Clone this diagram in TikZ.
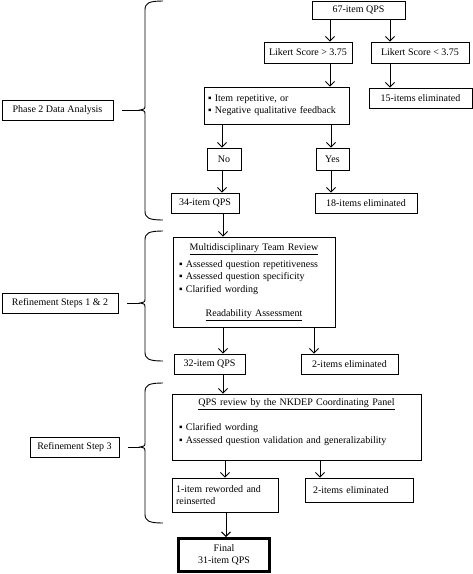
\documentclass[tikz,border=0pt]{standalone}
\usepackage{fontspec}
\setmainfont{Liberation Serif}
\usetikzlibrary{arrows.meta}

\begin{document}
\begin{tikzpicture}[x=1pt, y=-1pt, line width=0.9pt,
	font=\fontsize{10}{12.5}\selectfont,
	box/.style={draw, inner sep=0pt, align=center},
	listbox/.style={draw, inner ysep=3pt, align=left},
	>={Straight Barb[length=4.5pt, width=9pt]}]
	\useasboundingbox (0,0) rectangle (473,574);

	\newcommand*{\itemdot}{▪~} % bullet
	\newcommand*{\stagebrace}[3]{% top, tip, bottom
		\draw (163,#1) .. controls (149,#1) and (145,#1+2) .. (145,#1+9) -- (145,#2-5)
			.. controls (145,#2-1) .. (140,#2) .. controls (145,#2+1) .. (145,#2+5)
			-- (145,#3-9) .. controls (145,#3-2) and (149,#3) .. (163,#3);}

	% phase 2 data analysis
	\node[box, minimum width=93pt, minimum height=18pt] (q67) at (358.5,10) {67-item QPS};
	\node[box, minimum width=88pt, minimum height=21pt] (lgt) at (308,52.5) {Likert Score > 3.75};
	\node[box, minimum width=98pt, minimum height=21pt] (llt) at (420,52.5) {Likert Score < 3.75};
	\node[box, minimum width=103pt, minimum height=20pt] (e15) at (420.5,98) {15-items eliminated};
	\node[listbox, text width=137pt, inner xsep=4pt, minimum height=37pt] (rep) at (276.5,105.5)
		{\itemdot Item repetitive, or\\ \itemdot Negative qualitative feedback};
	\node[box, minimum width=34pt, minimum height=22pt] (no) at (224,159) {No};
	\node[box, minimum width=33pt, minimum height=22pt] (yes) at (332.5,159) {Yes};
	\node[box, minimum width=68pt, minimum height=20pt] (q34) at (205,203) {34-item QPS};
	\node[box, minimum width=102pt, minimum height=20pt] (e18) at (366,203) {18-items eliminated};

	\draw[->] ([xshift=-28.5pt]q67.south) -- ([xshift=22pt]lgt.north);
	\draw[->] ([xshift=31.5pt]q67.south) -- ([xshift=-30pt]llt.north);
	\draw[->] ([xshift=22pt]lgt.south) -- ([xshift=53.5pt]rep.north);
	\draw[->] ([xshift=-30pt]llt.south) -- ([xshift=-30.5pt]e15.north);
	\draw[->] ([xshift=-54.5pt]rep.south) -- ([xshift=-2pt]no.north);
	\draw[->] ([xshift=54.5pt]rep.south) -- ([xshift=-1.5pt]yes.north);
	\draw[->] ([xshift=-2pt]no.south) -- ([xshift=17pt]q34.north);
	\draw[->] ([xshift=-1.5pt]yes.south) -- ([xshift=-35pt]e18.north);

	% refinement steps 1 & 2
	\node[listbox, text width=150pt, inner xsep=6pt, minimum height=90pt] (team) at (254,282)
		{\makebox[\linewidth]{\underline{Multidisciplinary Team Review}}\\[4pt]
		 \itemdot Assessed question repetitiveness\\
		 \itemdot Assessed question specificity\\
		 \itemdot Clarified wording\\[11.5pt]
		 \makebox[\linewidth]{\underline{Readability Assessment}}};
	\node[box, minimum width=71pt, minimum height=20pt] (q32) at (209.5,364) {32-item QPS};
	\node[box, minimum width=97pt, minimum height=20pt] (e2a) at (349.5,364) {2-items eliminated};

	\draw[->] ([xshift=18pt]q34.south) -- ([xshift=-31pt]team.north);
	\draw[->] ([xshift=-31pt]team.south) -- ([xshift=13.5pt]q32.north);
	\draw[->] ([xshift=60pt]team.south) -- ([xshift=-35.5pt]e2a.north);

	% refinement step 3
	\node[listbox, text width=235pt, inner xsep=7pt, minimum height=66pt] (panel) at (296.5,427)
		{\makebox[\linewidth]{\underline{QPS review by the NKDEP Coordinating Panel}}\\[13pt]
		 \itemdot Clarified wording\\
		 \itemdot Assessed question validation and generalizability\\[0pt]
		 \mbox{}};
	\node[listbox, text width=98pt, inner xsep=4pt, minimum height=34pt] (r1) at (225,495)
		{1-item reworded and\\ reinserted};
	\node[listbox, text width=92pt, inner xsep=8pt, minimum height=24pt] (e2b) at (359,490)
		{2-items eliminated};
	\node[box, line width=3pt, minimum width=91pt, minimum height=33pt] (final) at (224,555)
		{Final\\ 31-item QPS};

	\draw[->] ([xshift=13.5pt]q32.south) -- ([xshift=-73.5pt]panel.north);
	\draw[->] ([xshift=-71.5pt]panel.south) -- (r1.north);
	\draw[->] ([xshift=23.5pt]panel.south) -- ([xshift=-39pt]e2b.north);
	\draw[->] ([xshift=1pt]r1.south) -- ([xshift=2pt]final.north);

	% stage labels and braces
	\node[box, minimum width=111pt, minimum height=20pt] (phase2) at (57.5,110) {Phase 2 Data Analysis};
	\node[box, minimum width=116pt, minimum height=20pt] (ref12) at (60,303) {Refinement Steps 1 \& 2};
	\node[box, minimum width=89pt, minimum height=20pt] (ref3) at (74.5,447) {Refinement Step 3};

	\coordinate (tip1) at (140,110);
	\coordinate (tip2) at (140,303);
	\coordinate (tip3) at (140,447);
	\stagebrace{1}{110}{220}
	\stagebrace{231}{303}{361}
	\stagebrace{383}{447}{523}
	\draw ([xshift=9pt]phase2.east) -- (tip1);
	\draw ([xshift=9pt]ref12.east) -- (tip2);
	\draw ([xshift=9pt]ref3.east) -- (tip3);

\end{tikzpicture}
\end{document}
